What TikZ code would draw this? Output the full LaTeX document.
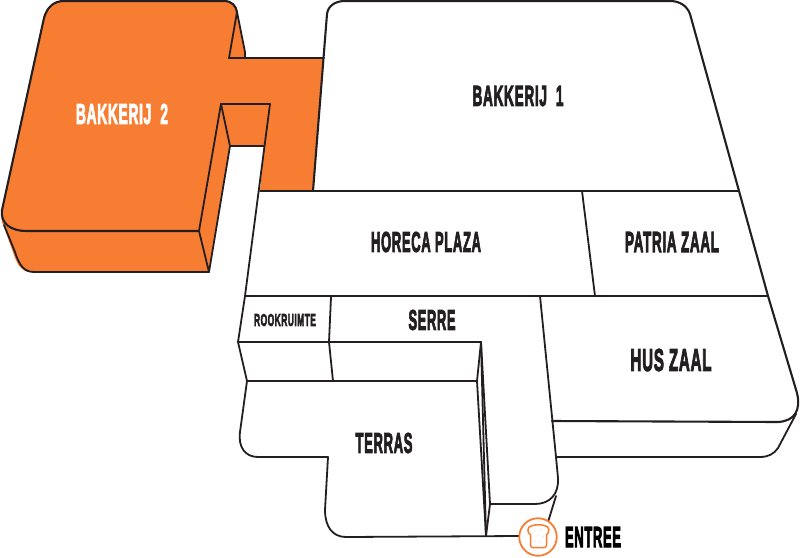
\documentclass[tikz,border=0pt]{standalone}
\usepackage{fontspec}
\usepackage{graphicx}
\setmainfont{Liberation Sans}
\newfontfamily\signfont{Liberation Sans Bold}[FakeBold=4,LetterSpace=5]
\definecolor{ink}{HTML}{231F20}
\definecolor{bakery}{HTML}{F77D33}
\newcommand{\lab}[3]{\resizebox{#1pt}{#2pt}{\signfont #3}}
\begin{document}
\begin{tikzpicture}[x=1pt,y=-1pt,
  wall/.style={draw=ink,line width=1.8pt,line join=round,line cap=round},
  thick wall/.style={wall,line width=2.1pt},
  lbl/.style={inner sep=0pt,outer sep=0pt,text=ink},
  lblw/.style={lbl,text=white},
  toast/.style={draw=bakery,line width=1.5pt,line join=round}]
\useasboundingbox (0,0) rectangle (800,557);
\fill[white] (0,0) rectangle (800,557);
% orange block
\fill[bakery] (44,18) .. controls (47,7) and (54,1) .. (64,1) -- (224,1)
  .. controls (232,1) and (236,6) .. (237,12) -- (245,52) -- (245,58) -- (324,58)
  -- (313,191) -- (260,191) -- (264,146) -- (230,146) -- (209,272) -- (30,272)
  .. controls (22,272) and (18,265) .. (15,258) -- (4,227)
  .. controls (1,222) and (1,216) .. (2,210) -- cycle;
\draw[wall] (237,12) -- (229,58) -- (324,58);
\draw[wall] (237,12) -- (245,52) -- (245,58);
\draw[thick wall] (44,18) .. controls (47,7) and (54,1) .. (64,1) -- (224,1)
  .. controls (232,1) and (236,6) .. (237,12);
\draw[thick wall] (44,18) -- (2,210) .. controls (0,224) and (12,231) .. (26,231) -- (199,231);
\draw[wall] (4,225) -- (15,252) .. controls (19,265) and (24,272) .. (34,272) -- (209,272);
\draw[wall] (199,231) -- (209,272) -- (230,146) -- (264,146);
\draw[wall] (199,231) -- (221,104) -- (270,104) -- (245,296);
\draw[wall] (221,104) -- (230,146);
% Bakkerij 1 and right side
\draw[thick wall] (313,191) -- (327,14) .. controls (328,6) and (335,1) .. (345,1) -- (670,1)
  .. controls (680,1) and (687,6) .. (690,14) -- (739,191) -- (768,296) -- (797,393)
  .. controls (801,410) and (795,421) .. (778,422) -- (552,421);
\draw[wall] (796,414) -- (778,448) .. controls (774,454) and (768,457) .. (760,457) -- (556,457);
\draw[wall] (260,191) -- (739,191);
\draw[wall] (582,191) -- (595,296);
\draw[wall] (245,296) -- (768,296);
% rooms
\draw[wall] (245,296) -- (238,342) -- (481,342);
\draw[wall] (331,297) -- (329,342) -- (333,381);
\draw[wall] (238,342) -- (247,381) -- (477,381) -- (481,342);
\draw[wall] (481,342) -- (490,504) -- (486,536);
\draw[wall] (481,342) -- (486,536);
\draw[wall] (477,381) -- (486,536);
\draw[wall] (540,296) -- (556,457) -- (558,478)
  .. controls (559,494) and (550,504) .. (535,504) -- (490,504);
\draw[wall] (556,496) -- (548,522);
% terrace
\draw[wall] (247,381) -- (240,432) .. controls (238,447) and (245,457) .. (258,457) -- (328,457)
  -- (325,510) .. controls (325,526) and (332,537) .. (346,537) -- (519,536);
% entrance icon
\node[circle,draw=bakery,fill=white,line width=1.8pt,minimum size=37.5pt,inner sep=0pt] (entreeicon) at (538,537) {};
\draw[toast] (530.5,535) .. controls (527,533) and (526.5,526) .. (532.5,525.5)
  .. controls (536,524.5) and (542,524.5) .. (544,525.5)
  .. controls (550,525.5) and (550,532.5) .. (546.5,535) -- (546.5,545)
  .. controls (546.5,546.5) and (545.5,547.5) .. (544.5,547.5) -- (532.5,547.5)
  .. controls (531.5,547.5) and (530.5,546.5) .. (530.5,545) -- cycle;
\foreach \p in {(535,531),(541,530),(538,535),(543,537),(535,541),(540,542)}
  \fill[bakery!50] \p circle (0.55pt);
% labels
\node[lblw] (b2) at (122,114) {\lab{92}{20}{BAKKERIJ\ \ 2}};
\node[lbl] (b1) at (518,96) {\lab{91}{20}{BAKKERIJ\ \ 1}};
\node[lbl] (horeca) at (426,242) {\lab{110}{20}{HORECA PLAZA}};
\node[lbl] (patria) at (672,242) {\lab{94}{20}{PATRIA ZAAL}};
\node[lbl] (rook) at (285,320) {\lab{62}{12}{ROOKRUIMTE}};
\node[lbl] (serre) at (432,320) {\lab{47}{20}{SERRE}};
\node[lbl] (hus) at (671,360) {\lab{81}{22}{HUS ZAAL}};
\node[lbl] (terras) at (384,443) {\lab{57}{20}{TERRAS}};
\node[lbl,text=black] (entree) at (593,537) {\lab{56}{20}{ENTREE}};
\end{tikzpicture}
\end{document}
